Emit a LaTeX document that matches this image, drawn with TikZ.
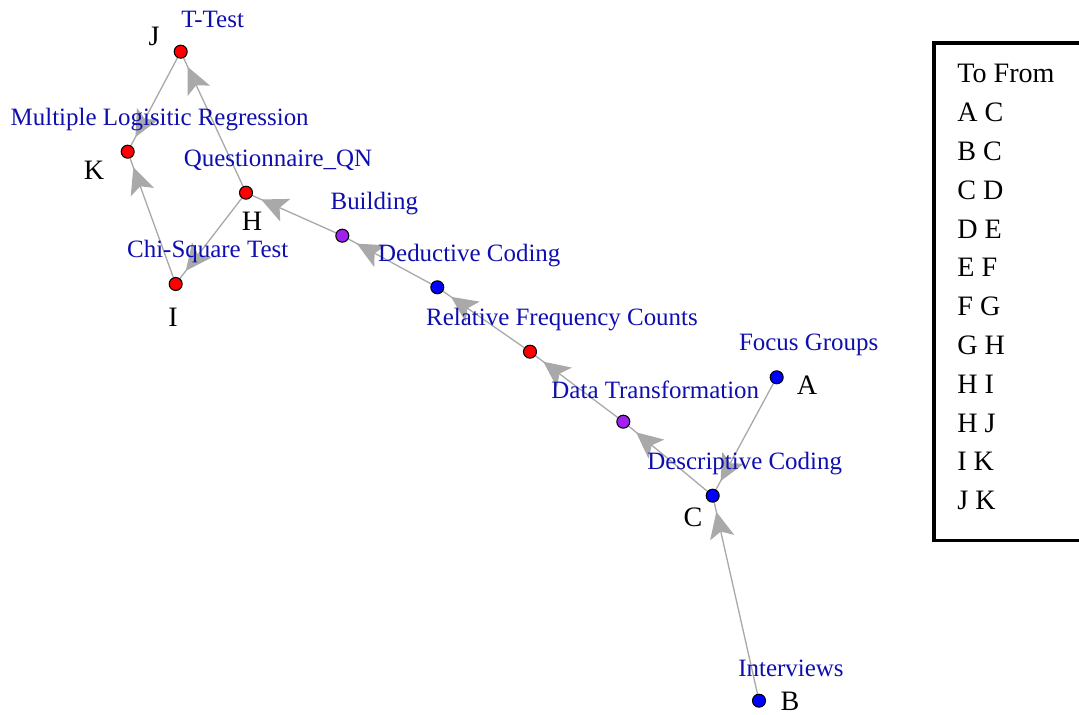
\documentclass[tikz,border=0pt]{standalone}
\usepackage{fontspec}
\setmainfont{Liberation Serif}
\usetikzlibrary{arrows.meta,decorations.markings,backgrounds}

\definecolor{labblue}{RGB}{15,15,175}
\definecolor{edgegray}{RGB}{169,169,169}
\definecolor{vpurple}{RGB}{160,32,240}

\begin{document}
\begin{tikzpicture}[x=0.02cm, y=-0.02cm,
  vert/.style={circle, draw=black, line width=0.6pt, inner sep=0pt, minimum size=0.26cm},
  lbl/.style={text=labblue, font=\fontsize{14.2}{16}\selectfont, xshift=0.64cm, yshift=0.64cm},
  letter/.style={font=\fontsize{16}{18}\selectfont, inner sep=0pt},
  edge/.style={draw=edgegray, line width=0.75pt, postaction={decorate},
    decoration={markings, mark=at position -0.19cm with
      {\arrow[edgegray]{Stealth[length=15pt, width=14pt, inset=3.5pt]}}}}]

\useasboundingbox (0,0) rectangle (1079,715);

% vertices
\node[vert, fill=blue, label={[lbl]center:Focus Groups}] (A) at (776.7,377.3) {};
\node[vert, fill=blue, label={[lbl]center:Interviews}] (B) at (759,700.7) {};
\node[vert, fill=blue, label={[lbl]center:Descriptive Coding}] (C) at (712.7,495.7) {};
\node[vert, fill=vpurple, label={[lbl]center:Data Transformation}] (D) at (623.3,421.7) {};
\node[vert, fill=red, label={[lbl]center:Relative Frequency Counts}] (E) at (530,351.7) {};
\node[vert, fill=blue, label={[lbl]center:Deductive Coding}] (F) at (437.3,287.3) {};
\node[vert, fill=vpurple, label={[lbl]center:Building}] (G) at (342.3,235.7) {};
\node[vert, fill=red, label={[lbl]center:Questionnaire\_QN}] (H) at (246,192.7) {};
\node[vert, fill=red, label={[lbl]center:Chi-Square Test}] (I) at (175.7,284) {};
\node[vert, fill=red, label={[lbl]center:T-Test}] (J) at (180.7,51.7) {};
\node[vert, fill=red, label={[lbl]center:Multiple Logisitic Regression}] (K) at (127.7,151.7) {};

% edges under the vertices
\begin{pgfonlayer}{background}
\draw[edge] (A) -- (C);
\draw[edge] (B) -- (C);
\draw[edge] (C) -- (D);
\draw[edge] (D) -- (E);
\draw[edge] (E) -- (F);
\draw[edge] (F) -- (G);
\draw[edge] (G) -- (H);
\draw[edge] (H) -- (I);
\draw[edge] (H) -- (J);
\draw[edge] (I) -- (K);
\draw[edge] (J) -- (K);
\end{pgfonlayer}

% letters
\node[letter] (lA) at (807,385) {A};
\node[letter] (lB) at (790,701) {B};
\node[letter] (lC) at (693,517) {C};
\node[letter] (lH) at (252,221) {H};
\node[letter] (lI) at (173,317) {I};
\node[letter] (lJ) at (154,36) {J};
\node[letter] (lK) at (94,170) {K};

% edge list box
\draw[line width=2.27pt] (1079,43) -- (933.5,43) -- (933.5,540.5) -- (1079,540.5);
\foreach \r [count=\i from 0] in {To From, A C, B C, C D, D E, E F, F G, G H, H I, H J, I K, J K}
  \node[letter, anchor=base west] (row\i) at (957,83+38.8*\i) {\r};

\end{tikzpicture}
\end{document}
